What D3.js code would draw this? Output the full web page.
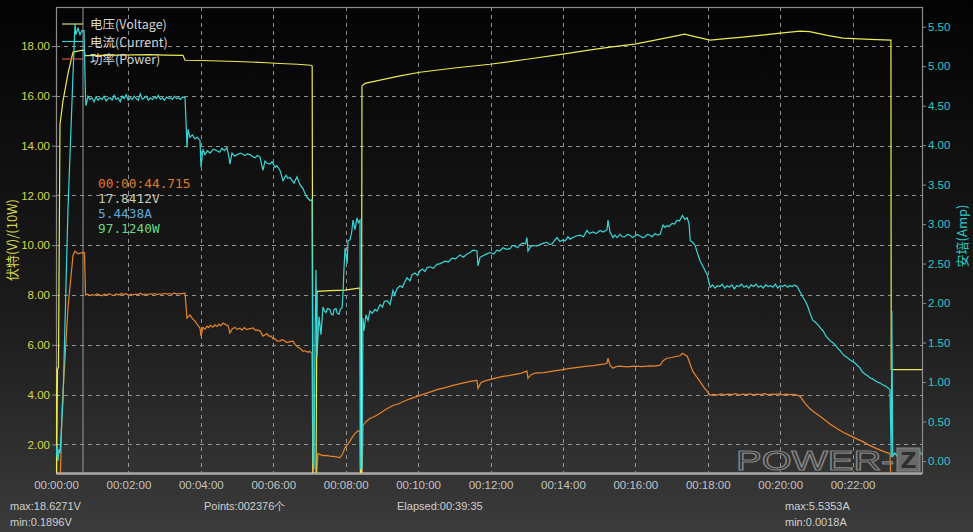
<!DOCTYPE html>
<html><head><meta charset="utf-8">
<script src="https://cdn.jsdelivr.net/npm/d3@7/dist/d3.min.js"></script>
<style>
html,body{margin:0;padding:0;background:#000;}
svg{display:block;}
</style></head>
<body>
<svg id="chart" width="973" height="532"></svg>
<script>
// ---------- DATA (time in seconds, values in V / A / W) ----------
const xTickSeconds = [0,120,240,360,480,600,720,840,960,1080,1200,1320];
const leftTicks = [2,4,6,8,10,12,14,16,18];
const rightTicks = [0,0.5,1,1.5,2,2.5,3,3.5,4,4.5,5,5.5];
const seriesNames = ["电压(Voltage)","电流(Current)","功率(Power)"];
const cursorTime = 44.715;
const cursorLabels = ["00:00:44.715","17.8412V","5.4438A","97.1240W"];
const statusLeft = ["max:18.6271V","min:0.1896V"];
const statusPoints = "Points:002376个";
const statusElapsed = "Elapsed:00:39:35";
const statusRight = ["max:5.5353A","min:0.0018A"];

const voltage = [
 [0,5.1],[0.8,0.3],[2.5,5.0],[4.1,5.1],[6.6,14.85],[11.6,15.8],[19.9,16.9],[28.2,17.76],[36,17.8],[44.7,17.84],[47,17.8],
 [48.1,17.62],[80,17.63],[106,17.64],[130,17.65],[155.8,17.66],[180,17.64],[210.4,17.63],[213.8,17.43],[240,17.42],
 [271.7,17.40],[300,17.38],[321.5,17.36],[350,17.33],[371.2,17.30],[400,17.27],[422.5,17.23],[424.5,17.2],
 [425.8,0.5],[430.8,0.5],[432.5,8.15],[454,8.18],[479,8.2],[502,8.28],[503.7,8.28],[504.6,0.5],[506,0.5],
 [507,16.4],[512,16.5],[536.9,16.63],[570,16.8],[603,16.95],[660,17.12],[719,17.27],[780,17.47],[840,17.68],
 [880,17.83],[918,17.96],[959,18.08],[1001,18.28],[1042,18.48],[1062,18.36],[1084,18.24],[1110,18.3],[1138,18.36],
 [1170,18.44],[1200,18.52],[1233,18.60],[1249,18.58],[1280,18.42],[1304,18.32],[1349,18.27],[1383.5,18.24],
 [1384,5.0],[1435,5.0]
];

const current = [
 [0,0.05],[1.7,0.2],[3.3,0.0],[5,0.15],[6.6,0.1],[11.6,0.76],[19.9,3.2],[28.2,4.9],[31.5,5.53],[33.1,5.40],
 [36.5,5.48],[39.8,5.40],[43.1,5.45],[46.4,5.45],[48.9,4.6],[49.7,4.50],
 [53,4.62],[56.3,4.58],[59.6,4.60],[63,4.55],[66.3,4.61],[69.6,4.57],[73,4.60],[76.3,4.58],[79.6,4.62],[83,4.56],
 [86.3,4.59],[89.6,4.60],[93,4.57],[96.3,4.63],[99.6,4.58],[103,4.60],[106.3,4.55],[109.6,4.62],[113,4.59],
 [116.3,4.64],[119.6,4.57],[123,4.60],[126.3,4.58],[129.6,4.62],[133,4.59],[136.3,4.57],[139.6,4.65],[143,4.58],
 [146.3,4.60],[149.6,4.62],[153,4.57],[156.3,4.60],[159.6,4.58],[163,4.61],[166.3,4.59],[169.6,4.63],[173,4.58],
 [176.3,4.60],[179.6,4.57],[183,4.61],[186.3,4.59],[189.6,4.60],[193,4.58],[196.3,4.62],[199.6,4.59],[203,4.60],
 [206.3,4.58],[209.6,4.61],[213.8,4.60],
 [215.4,4.3],[217.1,3.97],[218.7,4.2],[222,4.1],[226,4.13],[230.3,4.08],[234,4.1],[238.6,4.06],[240.3,3.72],
 [243.6,3.95],[246.9,3.88],[251,3.93],[255.2,3.90],[261,3.95],[266.8,3.93],[271,3.91],[275.1,3.96],[279,3.93],
 [283.3,3.97],[286.6,3.85],[288.3,3.76],[291.6,3.9],[296,3.86],[299.9,3.88],[306,3.90],[313.2,3.87],[317,3.89],
 [321.5,3.88],[325,3.86],[329.7,3.84],[334,3.87],[338,3.85],[343,3.68],[346.3,3.80],[350,3.77],[354.6,3.76],
 [358,3.79],[362.9,3.72],[366,3.74],[371.2,3.68],[376.2,3.55],[381.2,3.62],[384,3.58],[387.7,3.59],[394.4,3.52],
 [399.3,3.60],[404.3,3.50],[409.3,3.45],[412,3.40],[415.9,3.34],[420.9,3.30],[424.2,3.31],
 [425.8,0.0],[427.5,-0.1],[429.1,1.4],[430.8,2.42],[432.5,1.32],[435.8,1.83],[439.1,1.6],[442.4,1.95],[445,1.9],
 [447.4,1.88],[450,1.93],[454,1.92],[456,1.86],[459,1.85],[461,1.92],[464,1.93],[466,1.87],[469,1.86],[471,1.92],
 [474.1,1.94],[475.7,2.14],[477,2.4],[479,2.7],[480.5,2.62],[482.4,2.5],[484,2.79],[487.2,2.8],[490,2.9],
 [492.2,3.05],[495.5,2.93],[498.8,3.08],[501,3.02],[503.8,3.05],[504.6,-0.1],[507,-0.1],
 [508.7,1.81],[510.3,1.65],[513.7,1.85],[517,1.78],[520.3,1.9],[524,1.87],[528.6,1.92],[532,1.9],[536.9,1.98],
 [541,1.95],[544,2.02],[548.5,2.03],[553.5,1.98],[558.4,2.16],[561,2.1],[565,2.18],[570,2.22],[574,2.2],
 [578,2.27],[581.6,2.32],[586.6,2.28],[590,2.36],[594.9,2.38],[599,2.35],[603.1,2.41],[607,2.43],[611.4,2.40],
 [615,2.45],[619.7,2.46],[625,2.44],[631.3,2.49],[637,2.5],[644.6,2.53],[650,2.52],[656.2,2.57],[662,2.56],
 [669.4,2.61],[675,2.58],[681,2.62],[686,2.64],[691,2.67],[697.6,2.66],[699.3,2.47],[702.6,2.58],[707.6,2.6],
 [713,2.62],[719.2,2.64],[725,2.62],[730.7,2.67],[735,2.66],[740.7,2.7],[746,2.68],[752.3,2.69],[756,2.73],
 [760.6,2.72],[765,2.7],[768.8,2.74],[773,2.76],[778,2.75],[780.4,2.83],[782.1,2.66],[786,2.71],[790.4,2.73],
 [796,2.72],[802,2.74],[808,2.76],[813.6,2.77],[818,2.74],[821.9,2.75],[826,2.79],[830.2,2.83],[835,2.78],
 [840,2.80],[844,2.79],[848.4,2.84],[852,2.81],[856.7,2.83],[862,2.85],[868.3,2.86],[874,2.84],[879.9,2.92],
 [884,2.88],[889.8,2.9],[895,2.88],[901.4,2.92],[907,2.9],[913,2.93],[914.7,3.05],[918,2.9],[923,2.83],
 [926,2.86],[929.6,2.83],[934.6,2.87],[938,2.84],[942.8,2.84],[947,2.87],[951.1,2.86],[955,2.83],[959.4,2.85],
 [963,2.87],[967.7,2.85],[972,2.83],[976,2.84],[980,2.87],[984.3,2.86],[988,2.84],[992.5,2.88],[997,2.86],
 [1001,2.87],[1006,2.99],[1009,2.96],[1012,2.98],[1016,2.97],[1021,3.01],[1025,3.0],[1029,3.05],[1033,3.04],
 [1038,3.11],[1042,3.06],[1046,3.08],[1049,3.0],[1051,2.79],[1055,2.77],[1059,2.73],[1063,2.63],[1067,2.54],
 [1073,2.45],[1079,2.36],[1082,2.26],[1084,2.20],
 [1088,2.23],[1092,2.19],[1096,2.22],[1100,2.21],[1104,2.24],[1108,2.19],[1112,2.22],[1116,2.20],[1120,2.23],
 [1124,2.18],[1128,2.22],[1132,2.21],[1136,2.24],[1140,2.20],[1144,2.22],[1148,2.19],[1152,2.23],[1156,2.21],
 [1160,2.24],[1164,2.20],[1168,2.22],[1172,2.19],[1176,2.23],[1180,2.21],[1184,2.22],[1188,2.20],[1192,2.24],
 [1196,2.19],[1200,2.22],[1204,2.21],[1208,2.23],[1212,2.20],[1216,2.22],[1220,2.21],[1224,2.23],[1228,2.21],
 [1233,2.14],[1238,2.07],[1242,2.02],[1246,1.95],[1250,1.86],[1254,1.78],[1258,1.76],[1263,1.72],[1267,1.68],
 [1271,1.65],[1276,1.58],[1283,1.52],[1287,1.50],[1291,1.47],[1295,1.43],[1299,1.40],[1303,1.36],[1307,1.33],
 [1311,1.31],[1316,1.28],[1320,1.26],[1324,1.24],[1328,1.21],[1332,1.18],[1336,1.13],[1341,1.10],[1345,1.08],
 [1349,1.05],[1353,1.04],[1357,1.02],[1361,1.00],[1365,0.99],[1369,0.97],[1374,0.95],[1378,0.93],[1382,0.90],
 [1384,0.05],[1385,1.9],[1386.5,0.06],[1390,0.1],[1393,0.07],[1396,0.12],[1399,0.08],[1402,0.13],[1405,0.06],
 [1408,0.11],[1411,0.09],[1414,0.14],[1417,0.07],[1420,0.12],[1423,0.08],[1426,0.13],[1429,0.09],[1432,0.11],
 [1435,0.08]
];

const power = [
 [0,0],[6.6,1],[10,34],[19.9,75],[28.2,96],[31.5,97.6],[36.5,96.5],[44.7,97.1],[47.2,97],[48.9,80],
 [52,80.3],[56,79.8],[60,80.2],[64,79.9],[68,80.4],[72,80.1],[76,79.7],[80,80.3],[84,80.0],[88,80.5],
 [92,80.1],[96,79.8],[100,80.4],[104,80.0],[108,80.6],[112,80.2],[116,80.5],[120,79.9],[124,80.3],[128,80.1],
 [132,80.4],[136,80.2],[140,80.7],[144,80.1],[148,80.4],[152,80.2],[156,80.5],[160,80.3],[164,80.6],[168,80.2],
 [172,80.5],[176,80.3],[180,80.7],[184,80.4],[188,80.6],[192,80.3],[196,80.8],[200,80.4],[204,80.6],[208,80.5],
 [213.8,80.8],[217.1,70.7],[222,72],[226,70.5],[230.3,69.5],[238.6,66.7],[240.3,63.5],[243.6,67],[247,66.2],[250.2,67.5],
 [253,66.9],[256,67.8],[260,67.1],[263.5,68],[267,67.4],[270,68.3],[273,67.6],[276.7,68.7],[281,68.1],[285,67.8],[288.3,64.7],[292,66.5],[296.6,67],
 [300,66.2],[304.9,66.7],[308,65.9],[312,66.9],[316,66.1],[321.5,66.5],[327,66.8],[330,65.8],[333,66],[338,65.6],[343,63.5],[349.6,64.5],[353,63.4],[356,63.6],
 [360,62.3],[362.9,62.5],[366,61.6],[371.2,61.5],[374,62.1],[378,61.8],[382,60.9],[387.7,61.3],[392.7,61.5],[396,60.2],[401,59],[405,58.5],[409.3,57.4],
 [413,57.6],[417.6,57],[420,57.4],[424.2,56.6],[425.8,3],[430.8,3],[434,16.3],[438,15.9],[442.4,15.5],[448,15.6],
 [454,15.3],[462,15.1],[470.6,14.7],[475,16.2],[479,18.7],[485,20.5],[490.5,22.7],[495,24.2],[500.4,25.5],
 [503.7,25.2],[504.6,2],[507,2],[508.7,27.6],[514,29.2],[520.3,30.4],[528,31.2],[536.9,32.5],[547,34.1],
 [558.4,35.6],[568,36.3],[578.3,37.5],[590,38.6],[603.1,39.7],[617,40.8],[631.3,42],[645,42.8],[657.8,43.7],
 [672,44.5],[686,45.3],[692,45.5],[697.6,45.7],[699.3,42.5],[704,44.8],[710.9,45.5],[725,46.4],[740.7,47.3],
 [750,47.6],[760.6,48.1],[770,48.5],[780.4,49.4],[782.1,46.5],[787,48.0],[793.7,48.6],[808,48.8],[823.5,49.4],
 [837,49.9],[851.7,50.5],[865,50.9],[879.9,51.4],[890,51.6],[901.4,52],[907,52.2],[913,52.6],[914.7,54.6],
 [918,51.8],[923,50.6],[928,51.2],[934.6,51.4],[945,51.1],[959.4,51.4],[970,51.2],[984.3,51.5],[992,51.4],
 [1001,51.8],[1006,53.6],[1012,54.6],[1020,54.9],[1029,55.4],[1034,55.6],[1038,56.6],[1042,56.0],[1046,55.4],
 [1050,52.8],[1055,49.4],[1061,47.3],[1067,45.3],[1073,43.1],[1079,41.3],[1084,39.7],
 [1090,40.1],[1096,39.8],[1102,40.3],[1108,39.9],[1114,40.2],[1120,40.0],[1126,40.4],[1132,39.8],[1138,40.2],
 [1144,40.0],[1150,40.3],[1156,39.9],[1162,40.2],[1168,40.0],[1174,40.4],[1180,39.9],[1186,40.2],[1192,40.1],
 [1198,40.3],[1204,39.9],[1210,40.2],[1216,40.0],[1222,40.1],[1228,39.8],
 [1233,39.3],[1241,36.6],[1249,34.4],[1260,32.3],[1271,30.4],[1283,28.1],[1294,26.4],[1305,24.8],[1316,23.5],
 [1327,22.2],[1337,21.1],[1348,19.6],[1360,18.3],[1371,17.2],[1382,16.3],[1384,0.5],[1435,0.5]
];

// ---------- LAYOUT ----------
const W = 973, H = 532;
const m = {left:56, right:51, top:7, bottom:59};
const pw = W - m.left - m.right, ph = H - m.top - m.bottom;

const svg = d3.select("#chart");
const defs = svg.append("defs");
const bg = defs.append("linearGradient").attr("id","bg").attr("x1",0).attr("y1",0).attr("x2",0).attr("y2",1);
bg.append("stop").attr("offset","0%").attr("stop-color","#030303");
bg.append("stop").attr("offset","60%").attr("stop-color","#1c1c1c");
bg.append("stop").attr("offset","88%").attr("stop-color","#323232");
bg.append("stop").attr("offset","100%").attr("stop-color","#3b3b3b");
svg.append("rect").attr("width",W).attr("height",H).attr("fill","url(#bg)");

defs.append("clipPath").attr("id","clip").append("rect")
  .attr("x",m.left).attr("y",m.top).attr("width",pw).attr("height",ph);

const x = d3.scaleLinear().domain([0,1435]).range([m.left, m.left+pw]);
const yL = d3.scaleLinear().domain([0.85, 19.57]).range([m.top+ph, m.top]);
const yR = d3.scaleLinear().domain([-0.152, 5.75]).range([m.top+ph, m.top]);

const fmtTime = s => {
  const h = Math.floor(s/3600), mm = Math.floor((s%3600)/60), ss = Math.floor(s%60);
  return [h,mm,ss].map(v=>String(v).padStart(2,"0")).join(":");
};

// grid
const grid = svg.append("g").attr("stroke","#a8a8a8").attr("stroke-width",1).attr("stroke-dasharray","4,4").attr("opacity",0.85);
grid.selectAll("line.v").data(xTickSeconds.slice(1)).join("line")
  .attr("x1",d=>Math.round(x(d))+0.5).attr("x2",d=>Math.round(x(d))+0.5)
  .attr("y1",m.top).attr("y2",m.top+ph);
grid.selectAll("line.h").data(leftTicks).join("line")
  .attr("y1",d=>Math.round(yL(d))+0.5).attr("y2",d=>Math.round(yL(d))+0.5)
  .attr("x1",m.left).attr("x2",m.left+pw);

// frame
svg.append("rect").attr("x",m.left+0.5).attr("y",m.top+0.5).attr("width",pw).attr("height",ph)
  .attr("fill","none").attr("stroke","#8c8c8c").attr("stroke-width",1.2);
svg.append("line").attr("x1",m.left).attr("x2",m.left+pw).attr("y1",m.top+ph+0.5).attr("y2",m.top+ph+0.5)
  .attr("stroke","#a8a8a8").attr("stroke-width",2.5);

// cursor line
svg.append("line").attr("x1",x(cursorTime)).attr("x2",x(cursorTime)).attr("y1",m.top).attr("y2",m.top+ph)
  .attr("stroke","#9a9a9a").attr("stroke-width",1);

// axes
const tickFont = "'Liberation Sans', Arial, sans-serif";
const xAxis = svg.append("g").attr("transform",`translate(0,${m.top+ph})`)
  .call(d3.axisBottom(x).tickValues(xTickSeconds).tickFormat(fmtTime).tickSize(0).tickPadding(8));
xAxis.select(".domain").remove();
xAxis.selectAll("text").attr("fill","#c4c4c4").style("font-family",tickFont).style("font-size","11.5px");

const lAxis = svg.append("g").attr("transform",`translate(${m.left},0)`)
  .call(d3.axisLeft(yL).tickValues(leftTicks).tickFormat(d3.format(".2f")).tickSize(4).tickPadding(2));
lAxis.select(".domain").remove();
lAxis.selectAll("line").attr("stroke","#8c8c8c");
lAxis.selectAll("text").attr("fill","#d6d64a").style("font-family",tickFont).style("font-size","11.5px");

const rAxis = svg.append("g").attr("transform",`translate(${m.left+pw},0)`)
  .call(d3.axisRight(yR).tickValues(rightTicks).tickFormat(d3.format(".2f")).tickSize(4).tickPadding(2));
rAxis.select(".domain").remove();
rAxis.selectAll("line").attr("stroke","#8c8c8c");
rAxis.selectAll("text").attr("fill","#2cc8c8").style("font-family",tickFont).style("font-size","11.5px");

// axis titles
svg.append("text").attr("transform",`translate(17,240) rotate(-90)`).attr("text-anchor","middle")
  .attr("fill","#d6d64a").style("font-family","'Noto Sans CJK SC', sans-serif").style("font-size","13px")
  .text("伏特(V)/(10W)");
svg.append("text").attr("transform",`translate(967,236) rotate(-90)`).attr("text-anchor","middle")
  .attr("fill","#2cc8c8").style("font-family","'Noto Sans CJK SC', sans-serif").style("font-size","13px")
  .text("安培(Amp)");

// lines
const plot = svg.append("g").attr("clip-path","url(#clip)");
const colors = {v:"#eaea55", a:"#38d8d8", p:"#e8842a"};
const lineV = d3.line().x(d=>x(d[0])).y(d=>yL(d[1]));
const lineA = d3.line().x(d=>x(d[0])).y(d=>yR(d[1]));
const lineP = d3.line().x(d=>x(d[0])).y(d=>yL(d[1]/10));
plot.append("path").datum(power).attr("d",lineP).attr("fill","none").attr("stroke",colors.p).attr("stroke-width",1.2);
plot.append("path").datum(voltage).attr("d",lineV).attr("fill","none").attr("stroke",colors.v).attr("stroke-width",1.2);
plot.append("path").datum(current).attr("d",lineA).attr("fill","none").attr("stroke",colors.a).attr("stroke-width",1.2);

// legend
const legColors = ["#e0e070","#38d0d0","#c85a3a"];
const leg = svg.append("g");
seriesNames.forEach((n,i)=>{
  const yy = 24 + i*17.5;
  leg.append("line").attr("x1",62).attr("x2",83).attr("y1",yy).attr("y2",yy).attr("stroke",legColors[i]).attr("stroke-width",1.2);
  leg.append("text").attr("x",90).attr("y",yy+5).attr("fill","#d4d4d4")
    .style("font-family","'Noto Sans CJK SC', 'Liberation Sans', sans-serif").style("font-size","12.5px").text(n);
});

// cursor readout
const readColors = ["#e07a28","#c8c8b0","#5aa8d8","#6ad880"];
cursorLabels.forEach((t,i)=>{
  svg.append("text").attr("x",98).attr("y",188+i*15).attr("fill",readColors[i])
    .style("font-family","'DejaVu Sans Mono', monospace").style("font-size","12.8px").text(t);
});

// logo
const logo = svg.append("g");
logo.append("text").attr("x",736).attr("y",470).attr("textLength",158).attr("lengthAdjust","spacingAndGlyphs")
  .attr("fill","none").attr("stroke","#858585").attr("stroke-width",1.1)
  .style("font-family","'Liberation Sans', sans-serif").style("font-size","27px").text("POWER-");
logo.append("rect").attr("x",897).attr("y",448).attr("width",23).attr("height",23).attr("fill","#6a6a6a").attr("stroke","#8a8a8a");
logo.append("text").attr("x",908.5).attr("y",468).attr("text-anchor","middle").attr("fill","#2e2e2e")
  .style("font-family","'DejaVu Sans', sans-serif").style("font-weight","bold").style("font-size","22px").text("Z");

// status bar
const sFont = "'Liberation Sans', Arial, sans-serif";
const st = svg.append("g").attr("fill","#cfcfcf").style("font-family",sFont).style("font-size","11px");
st.append("text").attr("x",10).attr("y",510).text(statusLeft[0]);
st.append("text").attr("x",10).attr("y",526).text(statusLeft[1]);
st.append("text").attr("x",204).attr("y",510).text(statusPoints);
st.append("text").attr("x",397).attr("y",510).text(statusElapsed);
st.append("text").attr("x",785).attr("y",510).text(statusRight[0]);
st.append("text").attr("x",785).attr("y",526).text(statusRight[1]);
</script>
</body></html>
